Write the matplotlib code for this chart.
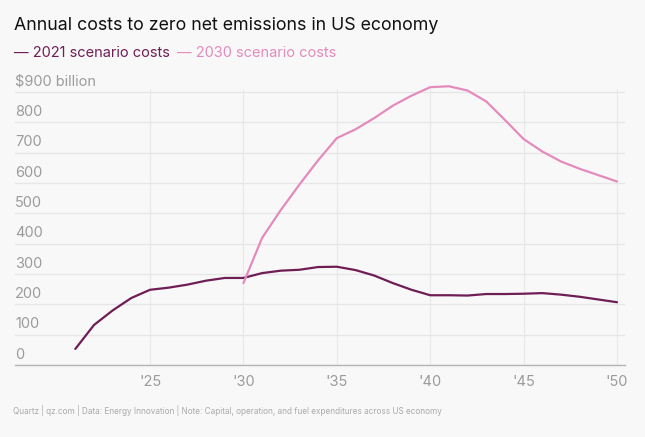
import matplotlib
matplotlib.use("Agg")
import matplotlib.pyplot as plt

years = list(range(2021, 2051))
costs_2021 = [53, 132, 180, 221, 248, 255, 265, 278, 287, 287,
              303, 311, 314, 323, 324, 313, 295, 270, 248, 230,
              230, 229, 234, 234, 235, 237, 232, 225, 216, 207]
years_2030 = list(range(2030, 2051))
costs_2030 = [270, 419, 511, 595, 675, 748, 777, 814, 855, 888,
              916, 919, 905, 869, 808, 745, 704, 671, 647, 626, 605]

y_ticks = [0, 100, 200, 300, 400, 500, 600, 700, 800, 900]
y_labels = ["0", "100", "200", "300", "400", "500", "600", "700", "800", "$900 billion"]
x_ticks = [2025, 2030, 2035, 2040, 2045, 2050]
x_labels = ["'25", "'30", "'35", "'40", "'45", "'50"]

DARK = "#6f1d55"
PINK = "#e48bbd"
GREY = "#9b9b9b"
BG = "#f8f8f8"

plt.rcParams["font.family"] = ["Inter", "DejaVu Sans"]

W, H = 645, 437
fig = plt.figure(figsize=(W / 100, H / 100), dpi=100, facecolor=BG)
# axes: y=0 at 365 px, 900 at 92 px
ax = fig.add_axes([15 / W, (H - 365) / H, 610 / W, 276 / H], facecolor=BG)

ax.plot(years, costs_2021, color=DARK, lw=1.6, solid_capstyle="round", zorder=3, clip_on=False)
ax.plot(years_2030, costs_2030, color=PINK, lw=1.6, solid_capstyle="round", zorder=3, clip_on=False)

ax.set_xlim(2017.77, 2050.43)
ax.set_ylim(0, 910)

for s in ["top", "right", "left"]:
    ax.spines[s].set_visible(False)
ax.spines["bottom"].set_color("#b5b5b5")
ax.spines["bottom"].set_linewidth(1)

ax.set_yticks(y_ticks)
ax.set_yticklabels([])
ax.tick_params(axis="y", length=0)
ax.grid(axis="y", color="#e6e6e6", lw=0.9)
for v, lab in zip(y_ticks, y_labels):
    ax.annotate(lab, (0, v), xycoords=("axes fraction", "data"),
                xytext=(0, 2.5), textcoords="offset points",
                ha="left", va="bottom", color=GREY, fontsize=10.5)

ax.set_xticks(x_ticks)
ax.set_xticklabels(x_labels, color=GREY, fontsize=10.5)
ax.tick_params(axis="x", length=0, pad=7)
for x in x_ticks:
    ax.axvline(x, ymin=0, ymax=1, color="#e9e9e9", lw=0.9, zorder=1)

fig.text(14 / W, 1 - 25 / H, "Annual costs to zero net emissions in US economy",
         fontsize=12.8, color="#111111", va="center", ha="left")

fig.text(14 / W, 1 - 53 / H, "\u2014 2021 scenario costs", fontsize=10.5,
         color=DARK, va="center", ha="left")
fig.text(177 / W, 1 - 53 / H, "\u2014 2030 scenario costs", fontsize=10.5,
         color=PINK, va="center", ha="left")

fig.text(13 / W, 1 - 411 / H,
         "Quartz | qz.com | Data: Energy Innovation | Note: Capital, operation, and fuel expenditures across US economy",
         fontsize=5.9, color="#aaaaaa", va="center", ha="left")

fig.savefig("out.png", dpi=100, facecolor=BG)
